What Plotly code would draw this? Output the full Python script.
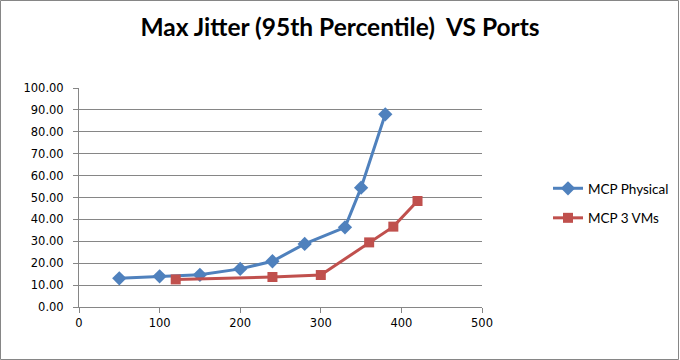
import plotly.graph_objects as go

phys_x = [50, 100, 150, 200, 240, 280, 330, 350, 380]
phys_y = [13.1, 14.0, 14.7, 17.4, 20.9, 28.8, 36.4, 54.5, 88.0]
vm_x = [120, 240, 300, 360, 390, 420]
vm_y = [12.6, 13.7, 14.6, 29.5, 36.7, 48.4]

W, H = 680, 360
L, R, T, B = 79, 198, 88, 53

fig = go.Figure()
fig.add_trace(go.Scatter(x=phys_x, y=phys_y, mode="lines+markers", name="MCP Physical",
                         legendgroup="a",
                         line=dict(color="#4F81BD", width=3),
                         marker=dict(symbol="diamond", size=11, color="#4F81BD")))
fig.add_trace(go.Scatter(x=vm_x, y=vm_y, mode="lines+markers", name="MCP 3 VMs",
                         legendgroup="b",
                         line=dict(color="#C0504D", width=3),
                         marker=dict(symbol="square", size=10, color="#C0504D")))

pw = W - L - R
ph = H - T - B
fig.add_shape(type="rect", xref="paper", yref="paper",
              x0=(0.5 - L) / pw, x1=(W - 1.5 - L) / pw,
              y0=-(B - 0.5) / ph, y1=1 + (T - 0.5) / ph,
              line=dict(color="#868686", width=1), fillcolor="rgba(0,0,0,0)", layer="below")

fig.update_layout(
    width=W, height=H,
    margin=dict(l=L, r=R, t=T, b=B, autoexpand=False),
    paper_bgcolor="white", plot_bgcolor="white",
    font=dict(family="DejaVu Sans", size=11, color="black"),
    title=dict(text="<b>Max Jitter (95th Percentile)  VS Ports</b>",
               x=0.5, xref="container", xanchor="center",
               y=1 - 27 / H, yanchor="middle",
               font=dict(family="Lato", size=24.5, color="black")),
    xaxis=dict(range=[0, 500], tickvals=[0, 100, 200, 300, 400, 500],
               showgrid=False, zeroline=False, showline=True, linecolor="#868686",
               ticks="outside", ticklen=5, tickcolor="#868686", automargin=False,
               tickfont=dict(family="DejaVu Sans", size=11.5), fixedrange=True),
    yaxis=dict(range=[0, 100], tickvals=list(range(0, 101, 10)), tickformat=".2f",
               showgrid=True, gridcolor="#868686", gridwidth=1, zeroline=False,
               showline=True, linecolor="#868686", automargin=False,
               ticks="outside", ticklen=5, tickcolor="#868686", ticklabelstandoff=7,
               tickfont=dict(family="DejaVu Sans", size=11.5)),
    legend=dict(x=(548 - L) / pw, y=(H - 173 - B) / ph, xanchor="left", yanchor="top",
                font=dict(family="Lato", size=13.5), tracegroupgap=9,
                traceorder="grouped",
                bgcolor="rgba(0,0,0,0)", itemwidth=30),
    showlegend=True,
)

fig.write_html("out.html", config={"displayModeBar": False},
               post_script="document.body.style.margin='0';document.body.style.overflow='hidden';")
